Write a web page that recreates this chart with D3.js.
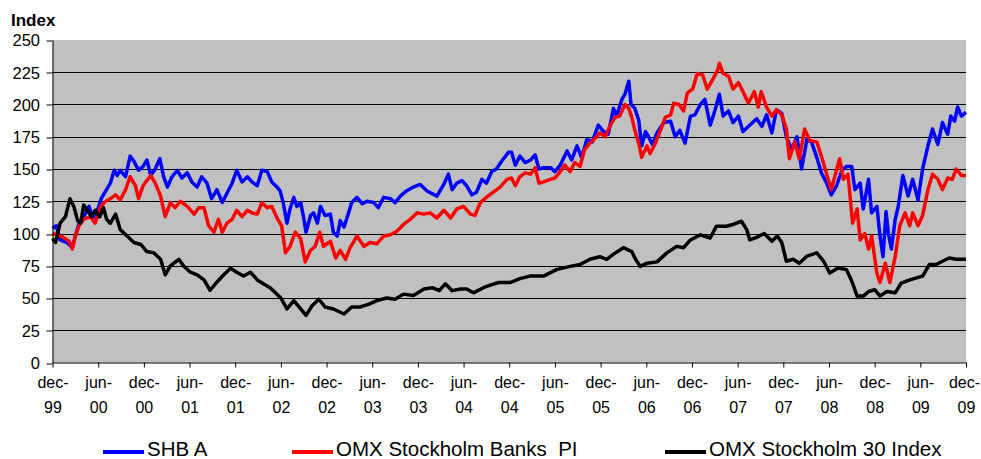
<!DOCTYPE html>
<html>
<head>
<meta charset="utf-8">
<script src="https://cdn.jsdelivr.net/npm/d3@7"></script>
<style>
  body { margin: 0; background: #fff; }
  svg { display: block; font-family: Arial, "Liberation Sans", sans-serif; }
</style>
</head>
<body>
<svg id="vis_svg"></svg>
<script>
// Data: [months since dec-99, index value]
let shbA = [
    [0,104],[0.5,106],[1,95],[1.9,93],[2.6,89],[3,98],[3.5,108],[4.1,113],[4.8,121],[5.3,112],[5.9,118],
    [6.4,127],[7,133],[7.6,139],[8.1,149],[8.5,145],[8.9,149],[9.6,144],[10.2,160],[10.7,156],[11.3,149],
    [11.9,152],[12.4,157],[12.9,145],[13.5,150],[14.1,158],[14.6,144],[15.1,136],[15.7,144],[16.4,149],
    [17,143],[17.7,147],[18.3,140],[19,136],[19.6,144],[20.3,139],[20.9,127],[21.6,134],[22.3,124],
    [22.9,131],[23.6,139],[24.2,149],[24.9,140],[25.6,144],[26.2,140],[26.9,137],[27.5,149],[28.2,148],
    [28.8,140],[29.5,136],[29.9,133],[30.3,124],[30.8,108],[31.2,119],[31.7,128],[32.1,121],[32.6,124],
    [33,112],[33.3,101],[33.9,114],[34.3,116],[34.8,108],[35.2,121],[35.8,114],[36.5,115],[36.9,101],
    [37.4,98],[37.8,110],[38.3,105],[38.9,116],[39.3,124],[40,128],[40.7,123],[41.3,125],[42.2,124],
    [42.8,120],[43.5,128],[44.4,127],[45,124],[45.7,129],[46.5,133],[47.4,136],[48.3,138],[49.2,133],
    [50.5,129],[51.4,138],[52,146],[52.5,134],[53.1,139],[53.8,141],[54.4,137],[55.1,130],[55.7,132],
    [56.4,142],[57,139],[57.7,148],[58.3,150],[59,156],[59.9,163],[60.3,163],[60.8,153],[61.4,160],
    [62.1,155],[62.8,157],[63.4,161],[63.9,150],[64.5,151],[65.4,151],[66,148],[66.7,153],[67.6,164],
    [68.2,157],[68.9,168],[69.5,159],[70.2,173],[70.9,171],[71.7,184],[72.4,179],[73,177],[73.7,197],
    [74.1,191],[74.8,204],[75.2,208],[75.7,218],[76,200],[76.5,197],[77,188],[77.4,168],[77.9,179],
    [78.3,175],[78.8,169],[79.4,178],[80.3,186],[81.2,187],[81.8,175],[82.4,180],[83.1,170],[83.8,191],
    [84.4,192],[85.1,200],[85.7,204],[86.4,184],[87,195],[87.6,208],[88.1,191],[88.8,195],[89.4,186],
    [90.1,191],[90.7,179],[91.4,183],[92.5,189],[93.2,183],[93.8,192],[94.5,178],[95.1,196],[95.8,193],
    [96.4,175],[97.1,165],[97.8,175],[98.4,150],[99.1,173],[99.7,171],[100.4,159],[101,147],[101.7,139],
    [102.3,130],[103,137],[103.7,149],[104.3,152],[105,152],[105.4,134],[106.1,139],[106.5,119],
    [107.2,142],[107.6,116],[108.3,121],[108.7,98],[109.1,82],[109.5,117],[109.8,100],[110.2,88],
    [110.7,111],[111.1,121],[111.7,145],[112.4,129],[113,142],[113.7,126],[114.3,150],[115,168],
    [115.6,181],[116.3,169],[116.9,186],[117.6,177],[118,191],[118.5,187],[118.9,198],[119.4,191],[120,194]
];

let omxBanks = [
    [0,100],[0.6,99],[1.4,97],[2.2,94],[2.6,88],[3,98],[3.5,106],[4.1,111],[5,113],[5.6,108],[6.3,121],
    [7,125],[7.6,127],[8.3,130],[8.9,126],[9.6,134],[10.2,144],[10.9,137],[11.3,127],[11.9,137],[12.9,145],
    [13.5,139],[14.2,129],[14.8,113],[15.5,124],[16.1,120],[16.8,125],[17.7,121],[18.6,115],[19.2,120],
    [19.9,120],[20.5,106],[21.2,101],[21.8,111],[22.3,101],[22.9,108],[23.6,111],[24.2,118],[24.9,113],
    [25.6,118],[26.2,116],[26.9,115],[27.5,124],[28.2,120],[28.8,121],[29.5,112],[30.1,106],[30.6,85],
    [31.2,90],[31.9,101],[32.6,96],[33.2,78],[33.9,87],[34.5,90],[35.1,101],[35.6,90],[36.5,94],[37.2,81],
    [37.8,87],[38.5,80],[39.1,89],[40,98],[40.9,90],[41.7,93],[42.6,92],[43.5,98],[44.4,99],[45.3,102],
    [46.1,107],[47,111],[47.9,116],[48.8,115],[49.6,116],[50.5,112],[51.4,118],[52.3,112],[53.1,119],
    [54,121],[54.9,115],[55.5,114],[56.2,124],[57,128],[57.9,132],[58.8,136],[59.7,142],[60.3,143],
    [60.8,137],[61.4,144],[62.1,147],[62.8,146],[63.4,151],[63.9,139],[64.5,140],[65.4,142],[66,143],
    [66.7,148],[67.3,153],[68,148],[68.6,155],[69.3,152],[69.9,165],[70.6,170],[71.3,174],[71.9,178],
    [72.6,175],[73.2,183],[73.9,190],[74.5,191],[75.2,200],[75.7,197],[76.1,190],[76.5,180],[77,170],
    [77.4,159],[78.1,168],[78.5,162],[79.2,170],[79.8,179],[80.5,190],[81.2,192],[81.6,201],[82.3,200],
    [82.9,195],[83.4,209],[84.1,212],[84.7,224],[85.4,223],[86,212],[86.7,219],[87.4,227],[87.6,232],
    [88.1,224],[88.8,222],[89.4,212],[90.1,217],[90.7,210],[91.4,201],[92.2,210],[92.7,198],[93.1,210],
    [93.8,198],[94.5,191],[95.1,196],[95.8,192],[96.4,181],[96.8,158],[97.5,171],[98.1,158],[98.8,181],
    [99.5,172],[100.4,171],[101,160],[101.7,146],[102.3,134],[102.8,145],[103.4,158],[103.9,142],
    [104.5,146],[105.1,108],[105.7,119],[106.1,95],[106.7,100],[107.2,88],[107.6,98],[108.3,69],
    [108.7,62],[109.4,77],[110,62],[110.7,82],[111.3,106],[112,116],[112.6,106],[113,116],[113.7,106],
    [114.3,114],[115,134],[115.6,146],[116.3,142],[116.9,134],[117.6,143],[118.2,142],[118.7,150],
    [119.4,145],[120,145]
];

let omx30 = [
    [0,96],[0.4,93],[1,108],[1.7,113],[2.3,127],[2.8,121],[3.3,110],[3.7,108],[4.1,122],[4.6,118],
    [5.1,113],[5.6,118],[6.2,113],[6.7,120],[7.1,111],[7.6,108],[8.3,115],[8.9,103],[9.8,98],[10.7,93],
    [11.6,91.5],[12.4,86],[13.3,85],[14.2,80],[14.8,68],[15.5,75],[16.6,80],[17.2,75],[18.1,70],[19,68],
    [19.9,64],[20.7,56],[21.4,61],[22.5,68],[23.4,73],[24.2,70],[25.1,67],[26,70],[26.9,64],[27.7,61],
    [28.6,58],[30,50],[30.8,41.5],[31.7,48],[32.6,41.5],[33.3,36.5],[34.1,44],[35,49],[35.8,43],
    [36.9,41.5],[38.3,37.6],[39.3,43],[40.4,43],[41.5,45],[42.6,48],[43.9,50],[45,49],[46.1,53],
    [47.4,52],[48.8,57],[49.9,58],[50.8,55.7],[51.6,61],[52.5,55.7],[53.6,57],[54.4,57],[55.3,54],
    [56.6,58],[57.5,60],[58.6,62],[60.1,62],[61.4,65],[62.7,67],[64.5,67],[66.2,72],[68,74.5],[69.3,76],
    [70.6,80],[71.9,82],[72.8,80],[73.7,84],[75,89],[76.1,86],[76.5,81],[77.2,74.5],[78.1,77],[79.4,78],
    [80.7,85],[82,90],[82.9,89],[83.8,95],[85.1,99],[86.4,96.5],[87.2,105.6],[88.5,105.6],[89.4,107],
    [90.5,109.5],[91.2,103],[91.6,95],[92.5,97],[93.5,100],[94.5,94],[95.2,98],[95.8,93],[96.4,78.5],
    [97.3,80],[98.1,77],[99.1,82.4],[100.4,85],[101.3,78.5],[102.1,69.4],[103.2,73.3],[104.3,72],
    [105,63],[105.7,51.5],[106.5,51.5],[107.2,55],[108,56.4],[108.7,51.5],[109.6,55],[110.7,54],
    [111.5,61.6],[112.6,64],[113.5,65.6],[114.3,67],[115.2,76],[116.1,76],[116.9,78.5],[117.8,81],
    [118.7,80],[120,80]
];

let seriesNames = ['SHB A', 'OMX Stockholm Banks  PI', 'OMX Stockholm 30 Index'];
let xTickMonths = d3.range(0, 121, 6);
let xTickTop = ['dec-', 'jun-', 'dec-', 'jun-', 'dec-', 'jun-', 'dec-', 'jun-', 'dec-', 'jun-', 'dec-',
                'jun-', 'dec-', 'jun-', 'dec-', 'jun-', 'dec-', 'jun-', 'dec-', 'jun-', 'dec-'];
let xTickBottom = ['99', '00', '00', '01', '01', '02', '02', '03', '03', '04', '04',
                   '05', '05', '06', '06', '07', '07', '08', '08', '09', '09'];
let yTicks = d3.range(0, 251, 25);

let config = {
    width: 981,
    height: 459,
    plot: { left: 52.5, right: 966, top: 40, bottom: 362.5 }
};
let colors = ['#0000FF', '#FF0000', '#000000'];

let svg = d3.select('#vis_svg')
    .attr('width', config.width)
    .attr('height', config.height);

let x = d3.scaleLinear().domain([0, 120]).range([config.plot.left, config.plot.right]);
let y = d3.scaleLinear().domain([0, 250]).range([config.plot.bottom, config.plot.top]);

// plot background
svg.append('rect')
    .attr('x', config.plot.left)
    .attr('y', config.plot.top)
    .attr('width', config.plot.right - config.plot.left)
    .attr('height', config.plot.bottom - config.plot.top)
    .style('fill', '#C0C0C0');

// gridlines
svg.append('g').selectAll('line')
    .data(yTicks.filter(d => d > 0 && d < 250))
    .join('line')
    .attr('x1', config.plot.left)
    .attr('x2', config.plot.right)
    .attr('y1', d => Math.round(y(d)) + 0.5)
    .attr('y2', d => Math.round(y(d)) + 0.5)
    .style('stroke', '#000')
    .style('stroke-width', 1);

// lines
let line = d3.line().x(d => x(d[0])).y(d => y(d[1]));
let allSeries = [shbA, omxBanks, omx30];
svg.append('g').selectAll('path')
    .data(allSeries)
    .join('path')
    .attr('d', line)
    .style('fill', 'none')
    .style('stroke', (d, i) => colors[i])
    .style('stroke-width', 3.5)
    .style('stroke-linejoin', 'round');

// y axis
let yAxis = svg.append('g')
    .attr('transform', translate(config.plot.left, 0))
    .call(d3.axisLeft(y).tickValues(yTicks).tickSize(6).tickSizeOuter(0).tickPadding(6));
yAxis.select('.domain').style('stroke', '#000');
yAxis.selectAll('.tick line')
    .attr('transform', d => 'translate(0,' + (Math.round(y(d)) + 0.5 - y(d)) + ')');
yAxis.selectAll('text')
    .style('font-size', '16.5px')
    .style('fill', '#000')
    .attr('x', -12.5)
    .attr('dy', '0.36em');

// x axis
let xAxis = svg.append('g')
    .attr('transform', translate(0, config.plot.bottom))
    .call(d3.axisBottom(x).tickValues(xTickMonths).tickSize(5).tickSizeOuter(0).tickFormat(''));
xAxis.select('.domain').style('stroke', '#000');
xAxis.selectAll('.tick').each(function(d, i) {
    let t = d3.select(this).select('text')
        .style('font-size', '16px')
        .style('fill', '#000')
        .attr('y', 0)
        .attr('dy', null);
    // last label is nudged left so it stays inside the page
    let dx = i === xTickMonths.length - 1 ? -2 : 0;
    t.append('tspan').attr('x', dx).attr('y', 25.5).text(xTickTop[i]);
    t.append('tspan').attr('x', 0).attr('y', 50.5).text(xTickBottom[i]);
});

// axis title
svg.append('text')
    .attr('x', 11)
    .attr('y', 26)
    .style('font-size', '17px')
    .style('font-weight', 'bold')
    .text('Index');

// legend
let legendX = [103, 292, 665];
let legend = svg.append('g').selectAll('g')
    .data(seriesNames)
    .join('g')
    .attr('transform', (d, i) => translate(legendX[i], 452));
legend.append('line')
    .attr('x1', 0).attr('x2', 41)
    .attr('y1', 0).attr('y2', 0)
    .style('stroke', (d, i) => colors[i])
    .style('stroke-width', 4);
legend.append('text')
    .attr('x', 44)
    .attr('y', 3.5)
    .style('font-size', '20.5px')
    .style('white-space', 'pre')
    .text(d => d);

function translate(x, y) {
    return 'translate(' + x + ',' + y + ')';
}
</script>
</body>
</html>
